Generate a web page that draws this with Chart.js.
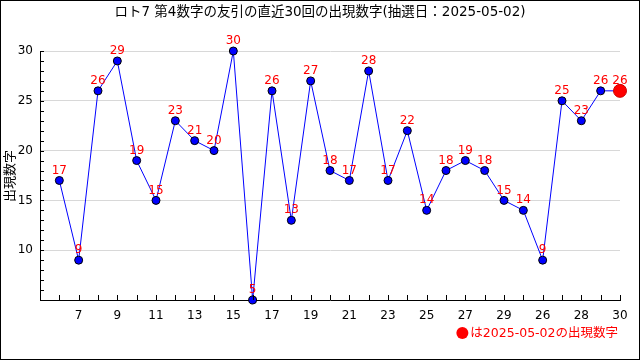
<!DOCTYPE html>
<html>
<head>
<meta charset="utf-8">
<script src="https://cdn.jsdelivr.net/npm/chart.js@4"></script>
<style>
  html, body { margin: 0; padding: 0; background: #fff; }
  #wrap { width: 640px; height: 360px; }
</style>
</head>
<body>
<div id="wrap"><canvas id="canvas-line" width="640" height="360"></canvas></div>
<script>
// values of the 4th number, oldest first
const numbers = [17, 9, 26, 29, 19, 15, 23, 21, 20, 30, 5, 26, 13, 27, 18, 17, 28, 17, 22, 14, 18, 19, 18, 15, 14, 9, 25, 23, 26, 26];
// labels shown under every other point (x = 2, 4, ... 30)
const xTickLabels = ["7", "9", "11", "13", "15", "17", "19", "21", "23", "25", "27", "29", "26", "28", "30"];
const yTicks = [10, 15, 20, 25, 30];
const titleText = "ロト7 第4数字の友引の直近30回の出現数字(抽選日：2025-05-02)";
const noteText = "は2025-05-02の出現数字";
const yTitle = "出現数字";

window.onload = function () {
  const ctx = document.getElementById("canvas-line");
  const font = "'DejaVu Sans', 'Noto Sans CJK JP', sans-serif";
  const last = numbers.length - 1;

  const points = numbers.map((v, i) => ({ x: i + 1, y: v }));

  const extras = {
    id: "extras",
    afterDraw(chart) {
      const c = chart.ctx;
      const xs = chart.scales.x;
      const ys = chart.scales.y;
      const area = chart.chartArea;
      c.save();
      // inner tick marks
      c.strokeStyle = "#000";
      c.lineWidth = 1;
      c.beginPath();
      for (let v = 5; v <= 30; v++) {
        const py = Math.round(ys.getPixelForValue(v)) + 0.5;
        c.moveTo(area.left, py);
        c.lineTo(area.left + 4, py);
      }
      for (let v = 1; v <= 30; v++) {
        const px = Math.round(xs.getPixelForValue(v)) + 0.5;
        c.moveTo(px, area.bottom);
        c.lineTo(px, area.bottom - 5);
      }
      c.stroke();

      // value labels
      const meta = chart.getDatasetMeta(0);
      c.fillStyle = "#ff0000";
      c.font = "12px " + font;
      c.textAlign = "center";
      c.textBaseline = "bottom";
      meta.data.forEach((pt, i) => {
        c.fillText(String(numbers[i]), pt.x, pt.y - 4);
      });

      // title
      c.fillStyle = "#000";
      c.font = "13.5px " + font;
      c.textBaseline = "middle";
      c.fillText(titleText, 320, 12);

      // y axis title
      c.save();
      c.translate(11, 176);
      c.rotate(-Math.PI / 2);
      c.font = "13px " + font;
      c.fillText(yTitle, 0, 0);
      c.restore();

      // note
      c.fillStyle = "#ff0000";
      c.font = "12.5px " + font;
      c.textAlign = "right";
      c.fillText(noteText, 618, 334);
      const w = c.measureText(noteText).width;
      c.beginPath();
      c.arc(618 - w - 8, 333, 6, 0, Math.PI * 2);
      c.fill();

      // frame
      c.strokeStyle = "#000";
      c.strokeRect(0.5, 0.5, 639, 359);
      c.restore();
    },
  };

  const config = {
    type: "line",
    data: {
      datasets: [
        {
          data: points,
          borderColor: "#0000ff",
          borderWidth: 1,
          tension: 0,
          clip: false,
          pointBackgroundColor: points.map((p, i) => (i === last ? "#ff0000" : "#0000ff")),
          pointBorderColor: points.map((p, i) => (i === last ? "#cc0000" : "#000")),
          pointBorderWidth: 1,
          pointRadius: points.map((p, i) => (i === last ? 6.5 : 4)),
        },
      ],
    },
    options: {
      responsive: false,
      animation: false,
      layout: { padding: { top: 51, right: 20, left: 0, bottom: 0 } },
      scales: {
        x: {
          type: "linear",
          min: 0,
          max: 30,
          afterFit(scale) { scale.height = 60; },
          afterBuildTicks(scale) {
            scale.ticks = xTickLabels.map((t, i) => ({ value: (i + 1) * 2 }));
          },
          grid: { display: false, drawTicks: false },
          border: { color: "#000", width: 1 },
          ticks: {
            padding: 9,
            color: "#000",
            font: { size: 12, family: font },
            maxRotation: 0,
            autoSkip: false,
            callback: (v) => xTickLabels[v / 2 - 1],
          },
        },
        y: {
          min: 5,
          max: 30,
          afterFit(scale) { scale.width = 40; },
          afterBuildTicks(scale) {
            scale.ticks = yTicks.map((v) => ({ value: v }));
          },
          grid: { color: "#d8d8d8", drawTicks: false },
          border: { color: "#000", width: 1 },
          ticks: {
            padding: 7,
            color: "#000",
            font: { size: 12, family: font },
          },
        },
      },
      plugins: {
        legend: { display: false },
        title: { display: false },
        tooltip: { enabled: false },
      },
    },
    plugins: [extras],
  };

  const myChart = new Chart(ctx, config);
};
</script>
</body>
</html>
